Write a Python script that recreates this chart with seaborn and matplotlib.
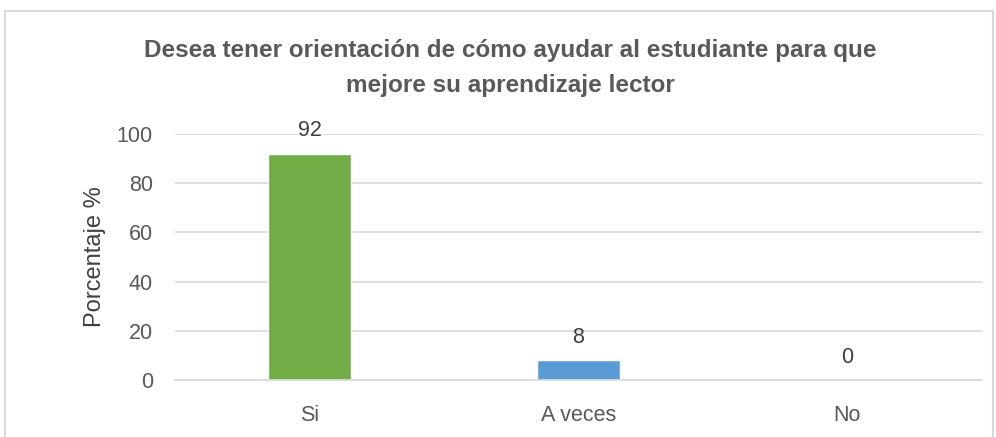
import matplotlib
matplotlib.use("Agg")
import matplotlib.pyplot as plt
from matplotlib.patches import Rectangle
import seaborn as sns
import pandas as pd

categories = ["Si", "A veces", "No"]
values = [92, 8, 0]
bar_colors = ["#70AD47", "#5B9BD5", "#A5A5A5"]
title = "Desea tener orientación de cómo ayudar al estudiante para que\nmejore su aprendizaje lector"
y_ticks = [0, 20, 40, 60, 80, 100]

sns.set_style("white")
plt.rcParams["font.family"] = ["Liberation Sans", "DejaVu Sans"]
grey = "#595959"

df = pd.DataFrame({"cat": categories, "val": values})

fig = plt.figure(figsize=(9.96, 4.37), dpi=100)
ax = fig.add_axes([0.1757, 0.1304, 0.810, 0.563])

sns.barplot(data=df, x="cat", y="val", hue="cat", palette=bar_colors,
            width=0.31, legend=False, ax=ax, saturation=1)

ax.set_ylim(0, 100)
ax.set_yticks(y_ticks)
ax.yaxis.grid(True, color="#D9D9D9", linewidth=1.2)
ax.set_axisbelow(True)
for s in ["top", "right", "left"]:
    ax.spines[s].set_visible(False)
ax.spines["bottom"].set_color("#D9D9D9")
ax.spines["bottom"].set_linewidth(1.2)
ax.tick_params(axis="both", length=0, labelsize=15.5, colors=grey)
ax.tick_params(axis="y", pad=16)
ax.tick_params(axis="x", pad=18)
ax.set_xlabel("")
ax.set_ylabel("Porcentaje %", fontsize=17, color="#404040", labelpad=8)

for i, v in enumerate(values):
    ax.annotate(str(v), (i, v), xytext=(0, 9), textcoords="offset points",
                ha="center", va="bottom", fontsize=15.5, color="#404040",
                annotation_clip=False)

fig.text(0.512, 0.844, title, ha="center", va="center", fontsize=17.5,
         fontweight="bold", color=grey, linespacing=1.65)

fig.patches.append(Rectangle((5 / 996, -0.01), 988 / 996, 1 - 11 / 437 + 0.01,
                             transform=fig.transFigure, fill=False,
                             edgecolor="#D9D9D9", linewidth=1.5))

fig.savefig("out.png", dpi=100, facecolor="white")
